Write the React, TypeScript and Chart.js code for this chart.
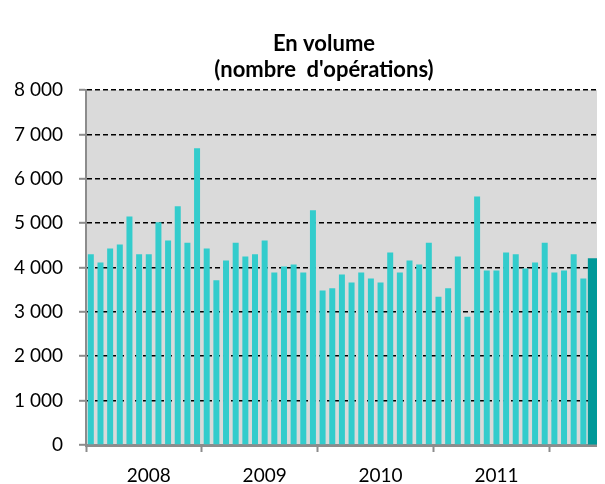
import React, { useEffect, useRef } from "react";
import { Chart, registerables } from "chart.js";

Chart.register(...registerables);

// ---- Data ----
const years = ["2008", "2009", "2010", "2011", "2012"];
const monthsPerYear = ["01", "02", "03", "04", "05", "06", "07", "08", "09", "10", "11", "12"];
const categoryCount = 53;

const volume2008 = [4300, 4110, 4430, 4520, 5150, 4300, 4300, 5020, 4610, 5380, 4560, 6690];
const volume2009 = [4430, 3710, 4160, 4560, 4250, 4300, 4610, 3890, 4020, 4070, 3890, 5290];
const volume2010 = [3480, 3530, 3840, 3660, 3890, 3750, 3660, 4340, 3890, 4160, 4070, 4560];
const volume2011 = [3340, 3530, 4250, 2890, 5600, 3930, 3930, 4340, 4300, 3980, 4110, 4560];
const volume2012 = [3890, 3930, 4300, 3750];
const highlightValue = 4200;

const yearTickLabels = ["2008", "2009", "2010", "2011"];
const titleLines = ["En volume", "(nombre  d'opérations)"];

const yMin = 0;
const yMax = 8000;
const yStep = 1000;

// ---- Derived tables ----
const categories: string[] = [];
years.forEach((y) => monthsPerYear.forEach((m) => categories.push(`${y}-${m}`)));
const labels = categories.slice(0, categoryCount);

const monthlyVolumes = [...volume2008, ...volume2009, ...volume2010, ...volume2011, ...volume2012];
const mainData: (number | null)[] = labels.map((_, i) => (i < monthlyVolumes.length ? monthlyVolumes[i] : null));
const highlightData: (number | null)[] = labels.map((_, i) => (i === labels.length - 1 ? highlightValue : null));

const formatThousands = (v: number) => String(v).replace(/\B(?=(\d{3})+(?!\d))/g, " ");

const GREY_AXIS = "#8c8c8c";
const TICK_FONT = { family: "Lato", size: 19 };

const plotBackground = {
  id: "plotBackground",
  beforeDraw(chart: any) {
    const { ctx, chartArea } = chart;
    if (!chartArea) return;
    ctx.save();
    ctx.fillStyle = "#dadada";
    ctx.fillRect(chartArea.left, chartArea.top, chartArea.right - chartArea.left, chartArea.bottom - chartArea.top);
    ctx.restore();
  },
};

const titlePlugin = {
  id: "twoLineTitle",
  afterDraw(chart: any) {
    const { ctx } = chart;
    ctx.save();
    ctx.fillStyle = "#000";
    ctx.font = "bold 22px Lato";
    ctx.textAlign = "center";
    ctx.textBaseline = "alphabetic";
    ctx.fillText(titleLines[0], 316, 42.5);
    ctx.fillText(titleLines[1], 316, 69);
    ctx.restore();
  },
};

export default function App() {
  const canvasRef = useRef<HTMLCanvasElement | null>(null);

  useEffect(() => {
    if (!canvasRef.current) return;
    const chart = new Chart(canvasRef.current, {
      type: "bar",
      data: {
        labels,
        datasets: [
          {
            data: mainData,
            backgroundColor: "#33cccc",
            barPercentage: 0.62,
            categoryPercentage: 1,
            grouped: false,
          } as any,
          {
            data: highlightData,
            backgroundColor: "#009999",
            barPercentage: 1,
            categoryPercentage: 1,
            grouped: false,
          } as any,
        ],
      },
      options: {
        animation: false,
        responsive: true,
        maintainAspectRatio: false,
        layout: { padding: { top: 82, right: 0, left: 0, bottom: 0 } },
        plugins: {
          legend: { display: false },
          title: { display: false },
          tooltip: { enabled: false },
        },
        scales: {
          x: {
            type: "category",
            offset: true,
            grid: {
              display: true,
              offset: true,
              drawOnChartArea: false,
              drawTicks: true,
              tickLength: 7,
              tickWidth: 2,
              tickColor: (ctx: any) => (ctx.index % 12 === 0 ? GREY_AXIS : "rgba(0,0,0,0)"),
            },
            border: { display: true, color: GREY_AXIS, width: 3 },
            ticks: {
              autoSkip: false,
              maxRotation: 0,
              minRotation: 0,
              padding: 12,
              color: "#000",
              font: TICK_FONT,
              callback: (_v: any, i: number) => {
                if (i % 12 === 6) {
                  const y = yearTickLabels[Math.floor(i / 12)];
                  return y ?? "";
                }
                return "";
              },
            },
            afterFit: (scale: any) => {
              scale.height = 39;
            },
          },
          y: {
            min: yMin,
            max: yMax,
            grid: {
              color: (ctx: any) => (ctx.tick && ctx.tick.value === 0 ? "rgba(0,0,0,0)" : "#000"),
              lineWidth: 1.6,
              drawTicks: true,
              tickLength: 7,
              tickWidth: 2,
              tickColor: GREY_AXIS,
            },
            border: { display: true, color: GREY_AXIS, width: 2, dash: [5, 3] },
            ticks: {
              stepSize: yStep,
              padding: 16,
              color: "#000",
              font: TICK_FONT,
              callback: (v: any) => formatThousands(Number(v)),
            },
            afterFit: (scale: any) => {
              scale.width = 78;
            },
          },
        },
      },
      plugins: [plotBackground, titlePlugin],
    });
    return () => chart.destroy();
  }, []);

  return (
    <div style={{ position: "relative", width: 597, height: 476 }}>
      <canvas ref={canvasRef} />
    </div>
  );
}
